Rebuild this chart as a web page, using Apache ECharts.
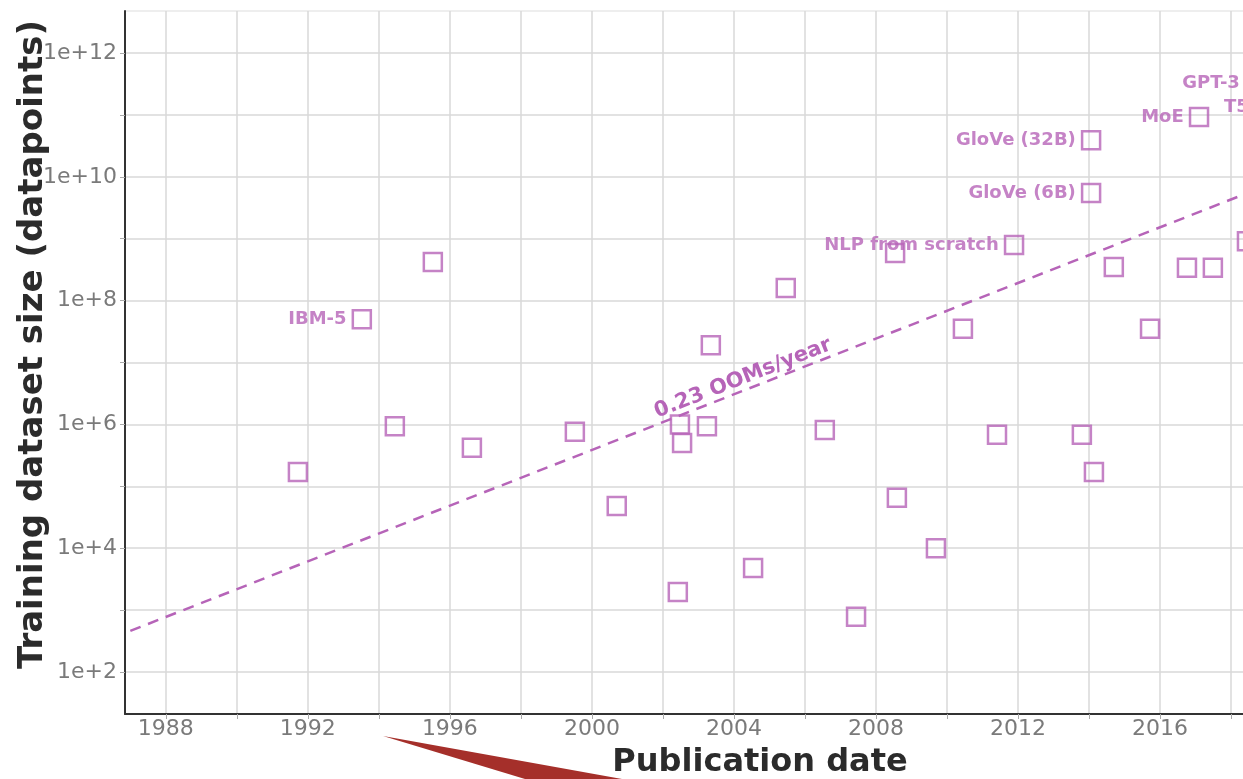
<!DOCTYPE html>
<html>
<head>
<meta charset="utf-8">
<script src="https://cdn.jsdelivr.net/npm/echarts@6/dist/echarts.min.js"></script>
<style>
  html, body { margin: 0; padding: 0; background: #ffffff; overflow: hidden; width: 1243px; height: 779px; }
  #chart { width: 1373px; height: 779px; }
</style>
</head>
<body>
<div id="chart"></div>
<script>
// ---- data ----
const years = [1991.72, 1993.52, 1994.45, 1995.52, 1996.62, 1999.52, 2000.70, 2002.42, 2002.48, 2002.54,
               2003.24, 2003.35, 2004.54, 2005.46, 2006.56, 2007.44, 2008.54, 2008.59, 2009.69, 2010.45,
               2011.89, 2011.41, 2013.80, 2014.14, 2014.06, 2014.06, 2014.70, 2015.72, 2016.76, 2017.49,
               2017.10, 2018.45, 2018.68, 2018.93];
const datasetSizes = [1.7e5, 5.0e7, 9.3e5, 4.2e8, 4.2e5, 7.6e5, 4.8e4, 1.95e3, 1.0e6, 5.0e5,
                      9.3e5, 1.9e7, 4.8e3, 1.6e8, 8.1e5, 7.8e2, 5.9e8, 6.5e4, 1.0e4, 3.5e7,
                      7.9e8, 6.8e5, 6.8e5, 1.7e5, 3.9e10, 5.5e9, 3.5e8, 3.5e7, 3.4e8, 3.4e8,
                      9.3e10, 9.1e8, 3.3e11, 1.35e11];
const pointNames = ['', 'IBM-5', '', '', '', '', '', '', '', '',
                    '', '', '', '', '', '', '', '', '', '',
                    'NLP from scratch', '', '', '', 'GloVe (32B)', 'GloVe (6B)', '', '', '', '',
                    'MoE', '', 'GPT-3', 'T5'];
const trendYears = [1987.0, 2021.75];
const trendSizes = [4.6e2, 3.0e10];
const trendLabel = '0.23 OOMs/year';
const xLabelYears = [1988, 1992, 1996, 2000, 2004, 2008, 2012, 2016, 2020];
const xTickYears = [1988, 1990, 1992, 1994, 1996, 1998, 2000, 2002, 2004, 2006, 2008, 2010, 2012, 2014, 2016, 2018, 2020];
const yLabelExps = [2, 4, 6, 8, 10, 12];
const yTickExps = [2, 3, 4, 5, 6, 7, 8, 9, 10, 11, 12];
const xTitle = 'Publication date';
const yTitle = 'Training dataset size (datapoints)';

// ---- build ----
const PURPLE = '#b664b8';
const FONT = 'DejaVu Sans';
const scatterData = years.map((y, i) => ({
  value: [y, Math.log10(datasetSizes[i])],
  name: pointNames[i],
  label: { show: pointNames[i] !== '' }
}));

const chart = echarts.init(document.getElementById('chart'), null, { renderer: 'canvas' });
chart.setOption({
  animation: false,
  backgroundColor: '#ffffff',
  grid: { left: 125, top: 11, bottom: 65, right: 0, outerBoundsMode: 'none', containLabel: false,
          show: true, borderColor: '#dddddd', borderWidth: 1 },
  xAxis: {
    type: 'value', min: 1986.85, max: 2022,
    name: xTitle, nameLocation: 'middle', nameGap: 33,
    nameTextStyle: { fontFamily: FONT, fontSize: 32, fontWeight: 'bold', color: '#2b2b2b', padding: [0, 0, 0, 22] },
    axisLine: { show: true, lineStyle: { color: '#333333', width: 2 } },
    axisTick: { show: true, length: 5, lineStyle: { color: '#aaaaaa' }, customValues: xTickYears },
    axisLabel: { fontFamily: FONT, fontSize: 22, color: '#7a7a7a', margin: 4, customValues: xLabelYears,
                 formatter: v => String(v) },
    splitLine: { show: true, lineStyle: { color: '#d9d9d9', width: 1.5 } }
  },
  yAxis: {
    type: 'value', min: 1.32, max: 12.68,
    name: yTitle, nameLocation: 'middle', nameGap: 75, nameRotate: 90, nameMoveOverlap: false,
    nameTextStyle: { fontFamily: FONT, fontSize: 34, fontWeight: 'bold', color: '#2b2b2b', padding: [0, 0, 0, 36] },
    axisLine: { show: true, lineStyle: { color: '#333333', width: 2 } },
    axisTick: { show: true, length: 5, lineStyle: { color: '#aaaaaa' }, customValues: yTickExps },
    axisLabel: { fontFamily: FONT, fontSize: 22, color: '#7a7a7a', margin: 8, customValues: yLabelExps,
                 formatter: v => '1e+' + v },
    splitLine: { show: true, lineStyle: { color: '#d9d9d9', width: 1.5 } }
  },
  series: [
    {
      type: 'scatter',
      symbol: 'rect',
      symbolSize: 18,
      data: scatterData,
      itemStyle: { color: 'rgba(0,0,0,0)', borderColor: PURPLE, borderWidth: 2.5 },
      label: {
        position: 'left', distance: 5, formatter: '{b}',
        fontFamily: FONT, fontSize: 18, fontWeight: 'bold', color: PURPLE
      },
      clip: false,
      markLine: {
        silent: true, symbol: 'none',
        lineStyle: { color: PURPLE, width: 2.5, type: [11, 8] },
        label: { show: true, position: 'middle', formatter: trendLabel, distance: 1,
                 fontFamily: FONT, fontSize: 21, fontWeight: 'bold', color: PURPLE },
        data: [[
          { coord: [trendYears[0], Math.log10(trendSizes[0])] },
          { coord: [trendYears[1], Math.log10(trendSizes[1])] }
        ]]
      }
    }
  ],
  graphic: [
    { type: 'polygon', shape: { points: [[383, 736], [622, 779], [525, 779]] },
      style: { fill: '#a52f2a' }, z: 100 }
  ]
});
</script>
</body>
</html>
